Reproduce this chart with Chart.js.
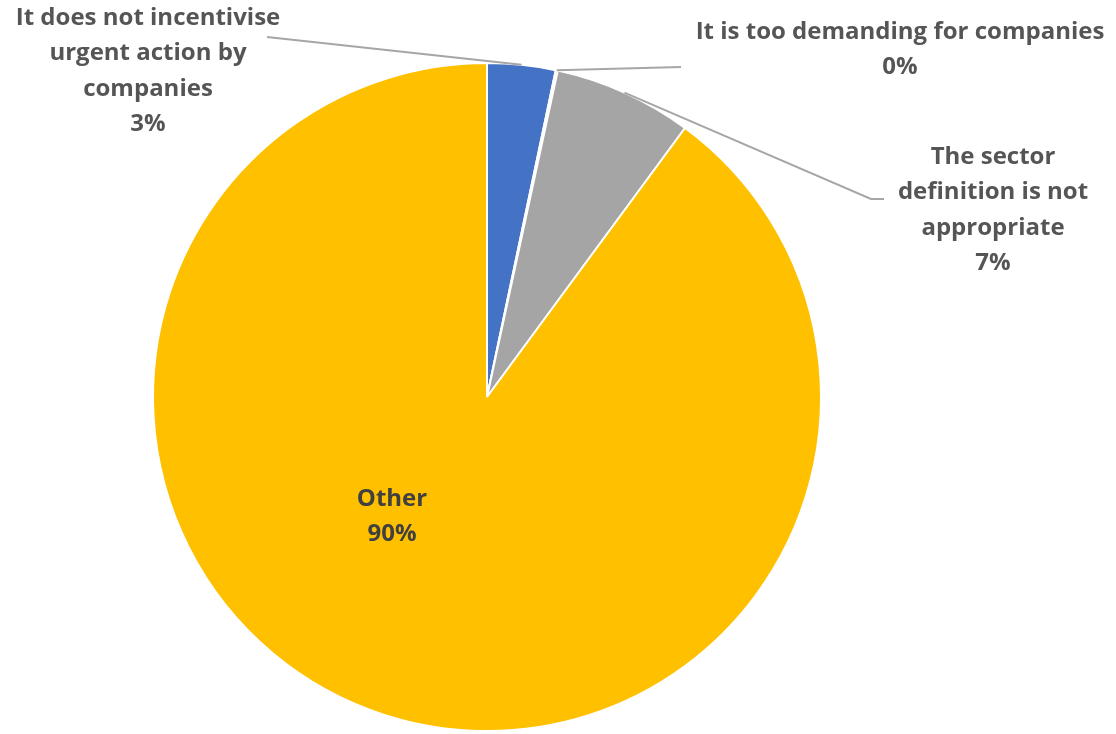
<!DOCTYPE html>
<html>
<head>
<meta charset="utf-8">
<script src="https://cdn.jsdelivr.net/npm/chart.js@4"></script>
<style>
  html, body { margin: 0; padding: 0; background: #fff; }
  #wrap { width: 1116px; height: 734px; }
</style>
</head>
<body>
<div id="wrap"><canvas id="pieChart" width="1116" height="734"></canvas></div>
<script>
// Survey answers (wrapped the way the labels appear)
const categories = [
    ['It does not incentivise', 'urgent action by', 'companies'],
    ['It is too demanding for companies'],
    ['The sector', 'definition is not', 'appropriate'],
    ['Other']
];
const shares = [3.3, 0.1, 6.7, 89.9];
const sliceColors = ['#4472C4', '#ED7D31', '#A5A5A5', '#FFC000'];

// where each label block sits, and where its leader line starts
const labelSpots = [
    { x: 148, y: 18, leader: [[267, 37]] },
    { x: 900, y: 32, leader: [[681, 67]] },
    { x: 993, y: 157, leader: [[884, 199], [871, 199]] },
    { x: 392, y: 499, leader: null }
];

const labelPlugin = {
    id: 'pieLabels',
    afterDraw(chart) {
        const ctx = chart.ctx;
        const arcs = chart.getDatasetMeta(0).data;
        ctx.save();

        // leader lines first
        arcs.forEach((arc, i) => {
            const spot = labelSpots[i];
            if (!spot.leader) return;
            const mid = (arc.startAngle + arc.endAngle) / 2;
            const ex = arc.x + Math.cos(mid) * arc.outerRadius;
            const ey = arc.y + Math.sin(mid) * arc.outerRadius;
            ctx.beginPath();
            ctx.moveTo(spot.leader[0][0], spot.leader[0][1]);
            for (let k = 1; k < spot.leader.length; k++) ctx.lineTo(spot.leader[k][0], spot.leader[k][1]);
            ctx.lineTo(ex, ey);
            ctx.strokeStyle = '#A6A6A6';
            ctx.lineWidth = 2;
            ctx.stroke();
        });

        // text
        ctx.font = 'bold 24px "Open Sans", "Noto Sans", sans-serif';
        ctx.textAlign = 'center';
        ctx.textBaseline = 'middle';
        categories.forEach((lines, i) => {
            const spot = labelSpots[i];
            const all = lines.concat([Math.round(shares[i]) + '%']);
            ctx.fillStyle = i === 3 ? '#404040' : '#555555';
            all.forEach((t, j) => ctx.fillText(t, spot.x, spot.y + j * 35.5));
        });
        ctx.restore();
    }
};

new Chart(document.getElementById('pieChart'), {
    type: 'pie',
    data: {
        labels: categories.map(c => c.join(' ')),
        datasets: [{
            data: shares,
            backgroundColor: sliceColors,
            borderColor: '#ffffff',
            borderWidth: 2
        }]
    },
    options: {
        responsive: false,
        animation: false,
        layout: { padding: { left: 152, right: 294, top: 62, bottom: 2 } },
        plugins: {
            legend: { display: false },
            tooltip: { enabled: false }
        }
    },
    plugins: [labelPlugin]
});
</script>
</body>
</html>
